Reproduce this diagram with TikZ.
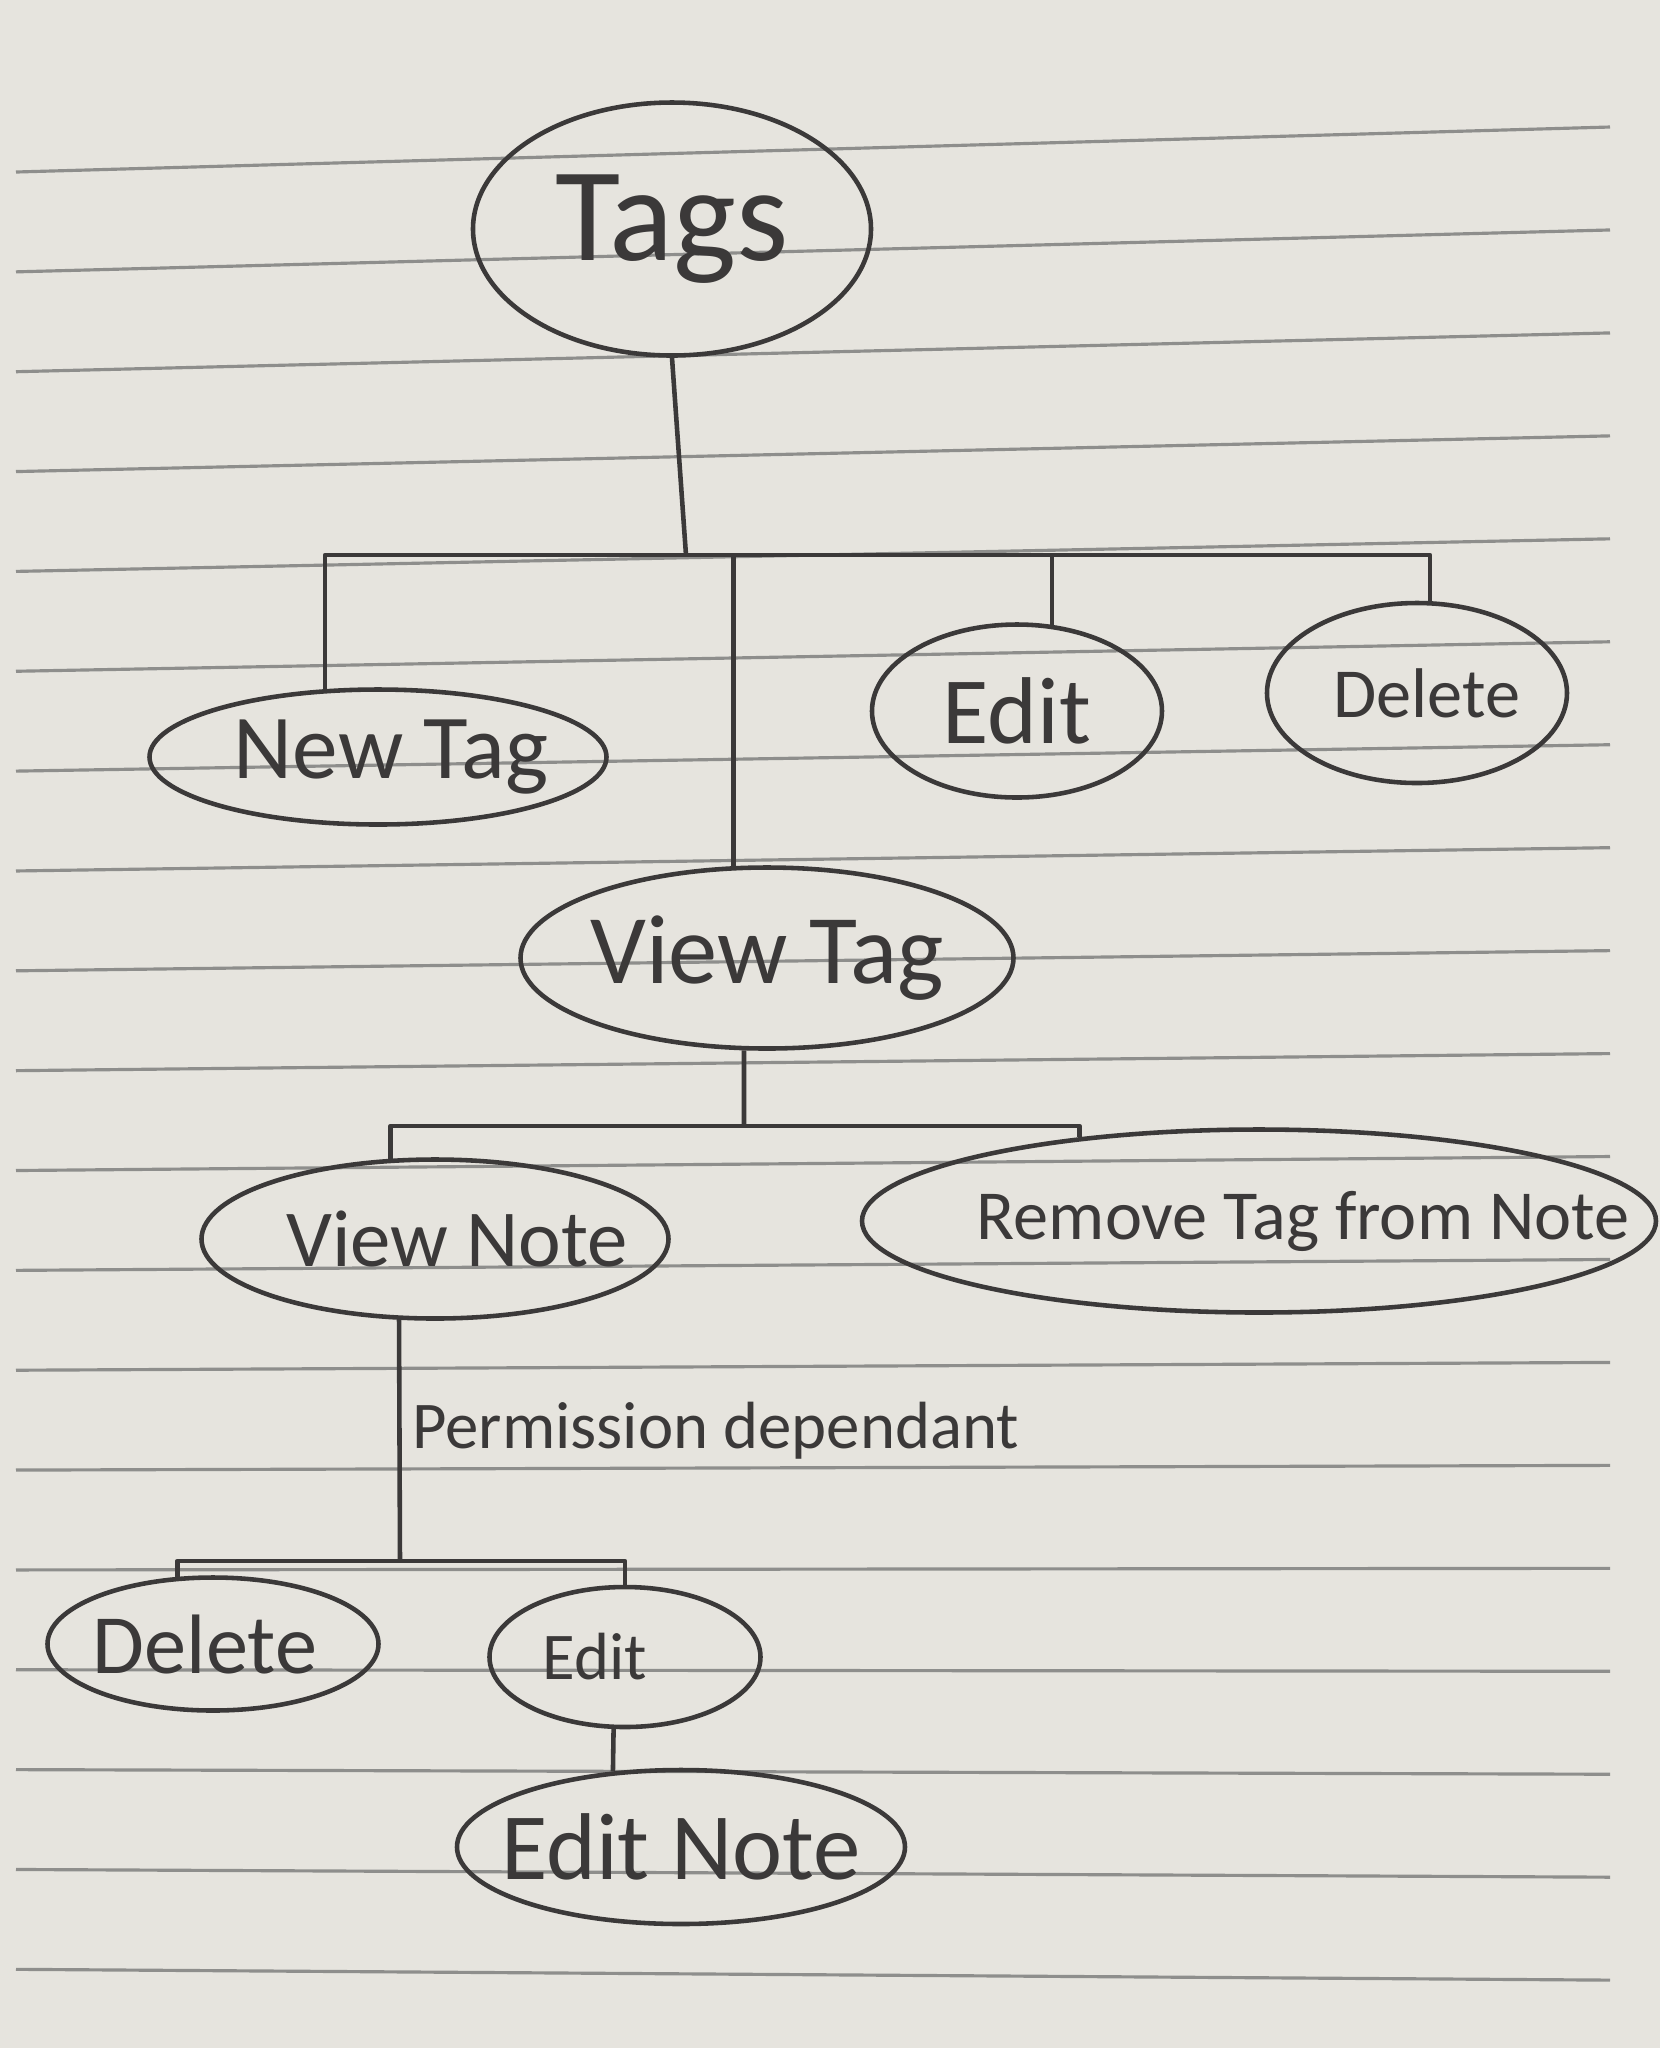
\documentclass[tikz,border=0pt]{standalone}
\usepackage{fontspec}
\setmainfont{Carlito}
\usetikzlibrary{shapes.geometric, positioning, calc}
\definecolor{tagink}{HTML}{3B3939}
\definecolor{tagpaper}{HTML}{E6E4DE}
\definecolor{tagrule}{HTML}{8E8E8C}
% text that does not widen its ellipse, optionally moved sideways
\newcommand{\inkbox}[2][0pt]{\makebox[0pt]{\hspace*{#1}#2\hspace*{-#1}}}

\begin{document}
\begin{tikzpicture}[
    bubble/.style={
        ellipse,
        draw=tagink,
        line width=1.3pt,
        inner sep=0pt,
        text=tagink
    },
    link/.style={
        draw=tagink,
        line width=1.3pt,
        line join=round
    },
    ruling/.style={
        draw=tagrule,
        line width=0.9pt
    },
    remark/.style={
        font=\fontsize{19}{22}\selectfont,
        text=tagink,
        inner sep=3pt
    }
]

% Paper
\useasboundingbox (0,0) rectangle (16.6,-20.48);
\fill[tagpaper] (0,0) rectangle (16.6,-20.48);
\foreach \k in {0,...,18} {
    \pgfmathsetmacro{\ly}{-1.72-0.9985*\k}
    \pgfmathsetmacro{\ry}{\ly+0.45-0.031*\k}
    \draw[ruling] (0.16,\ly) -- (16.1,\ry);
}

% Nodes
\node[bubble, minimum width=3.98cm, minimum height=2.53cm, font=\fontsize{38}{44}\selectfont] (tags) at (6.72,-2.29) {\inkbox{Tags}};
\node[bubble, minimum width=4.57cm, minimum height=1.35cm, font=\fontsize{26}{30}\selectfont] (newtag) at (3.78,-7.57) {\inkbox[0.13cm]{New Tag}};
\node[bubble, minimum width=2.90cm, minimum height=1.73cm, font=\fontsize{27}{31}\selectfont] (edittag) at (10.17,-7.11) {\inkbox{Edit}};
\node[bubble, minimum width=3.00cm, minimum height=1.80cm, font=\fontsize{20}{24}\selectfont] (deletetag) at (14.17,-6.93) {\inkbox[0.1cm]{Delete}};
\node[bubble, minimum width=4.93cm, minimum height=1.81cm, font=\fontsize{28}{32}\selectfont] (viewtag) at (7.67,-9.58) {\inkbox{View Tag}};
\node[bubble, minimum width=4.67cm, minimum height=1.59cm, font=\fontsize{23}{27}\selectfont] (viewnote) at (4.35,-12.39) {\inkbox[0.22cm]{View Note}};
\node[bubble, minimum width=7.94cm, minimum height=1.83cm, font=\fontsize{20}{24}\selectfont] (removetag) at (12.59,-12.21) {\inkbox[0.44cm]{Remove Tag from Note}};
\node[bubble, minimum width=3.31cm, minimum height=1.33cm, font=\fontsize{24}{28}\selectfont] (deletenote) at (2.13,-16.44) {\inkbox[-0.08cm]{Delete}};
\node[bubble, minimum width=2.71cm, minimum height=1.40cm, font=\fontsize{19}{23}\selectfont] (editnote) at (6.25,-16.57) {\inkbox[-0.30cm]{Edit}};
\node[bubble, minimum width=4.48cm, minimum height=1.54cm, font=\fontsize{27}{32}\selectfont] (editnotefull) at (6.81,-18.47) {\inkbox{Edit Note}};

% Branch points
\coordinate (tagbus) at (6.86,-5.55);
\coordinate (viewbus) at (7.44,-11.26);
\coordinate (notebus) at (4.00,-15.61);

% Tags level
\draw[link] (tags.south) -- (tagbus);
\draw[link] (tagbus) -| (newtag.128);
\draw[link] (tagbus) -| (viewtag.110);
\draw[link] (tagbus) -| (edittag.68);
\draw[link] (tagbus) -| (deletetag.82);

% View Tag level
\draw[link] (viewtag.256) -- (viewbus);
\draw[link] (viewbus) -| (viewnote.119);
\draw[link] (viewbus) -| (removetag.155);

% View Note level
\draw[link] (viewnote.246) -- node[remark, right, pos=0.46] (permission) {Permission dependant} (notebus);
\draw[link] (notebus) -| (deletenote.118);
\draw[link] (notebus) -| (editnote.north);
\draw[link] (editnote.261) -- (editnotefull.132);

\end{tikzpicture}
\end{document}
